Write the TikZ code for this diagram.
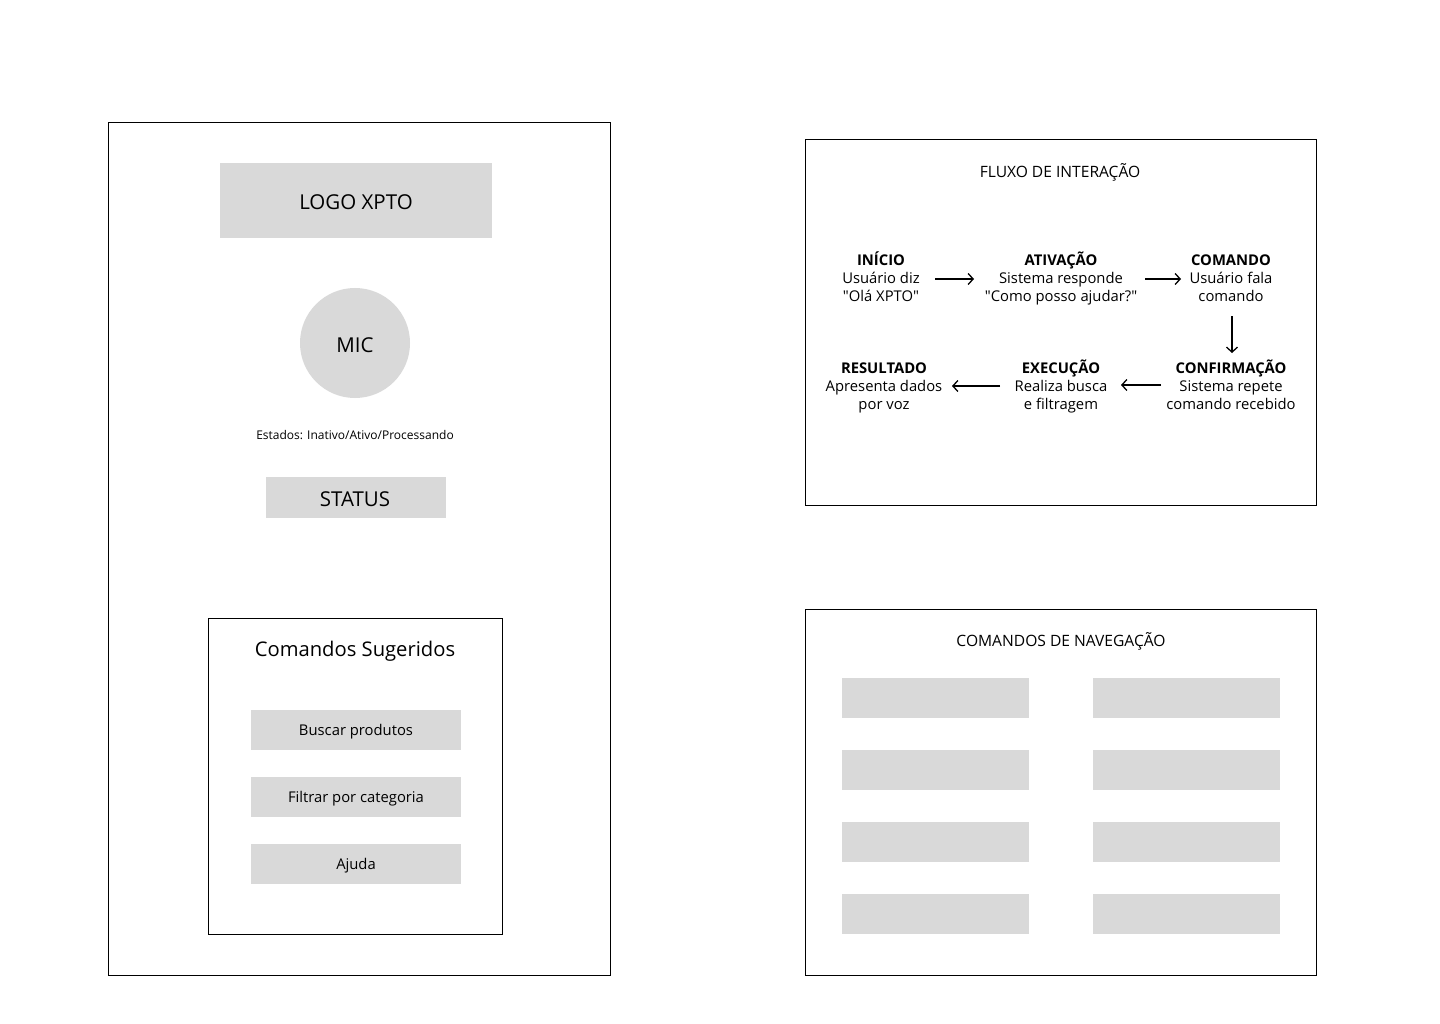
\documentclass[tikz,border=0pt]{standalone}
\usepackage{fontspec}
\setmainfont{Open Sans}[Ligatures=TeXOff]
\usetikzlibrary{arrows.meta}
\begin{document}
\begin{tikzpicture}[x=1pt,y=-1pt,
  frame/.style={draw=black,line width=1pt,fill=none},
  greybox/.style={fill=boxgrey,draw=none},
  body/.style={font=\fontsize{14.8}{18}\selectfont,align=center,inner sep=0pt,anchor=north},
  arr/.style={-{Straight Barb[length=5pt,width=11pt]},line width=1.3pt}]
\definecolor{boxgrey}{HTML}{D9D9D9}
\useasboundingbox (0,0) rectangle (1440,1024);
\fill[white] (0,0) rectangle (1440,1024);
% left phone frame
\draw[frame] (108,123) rectangle (610,975);
\fill[greybox] (220,163) rectangle (492,238);
\node[font=\fontsize{20.5}{22}\selectfont] (logo) at (356,202) {LOGO XPTO};
\fill[boxgrey] (355,343) circle (55);
\node[font=\fontsize{20.5}{22}\selectfont] (mic) at (355,345) {MIC};
\node[font=\fontsize{12}{13}\selectfont] (estados) at (355,435.5) {Estados: Inativo/Ativo/Processando};
\fill[greybox] (266,477) rectangle (446,518);
\node[font=\fontsize{20.5}{22}\selectfont] (status) at (355,499) {STATUS};
% suggested commands
\draw[frame] (208,618) rectangle (502,934);
\node[font=\fontsize{20.2}{22}\selectfont] (sug) at (355,651) {Comandos Sugeridos};
\fill[greybox] (251,710) rectangle (461,750);
\node[font=\fontsize{14.8}{17}\selectfont] (b1) at (356,732) {Buscar produtos};
\fill[greybox] (251,777) rectangle (461,817);
\node[font=\fontsize{14.8}{17}\selectfont] (b2) at (356,799) {Filtrar por categoria};
\fill[greybox] (251,844) rectangle (461,884);
\node[font=\fontsize{14.8}{17}\selectfont] (b3) at (356,866) {Ajuda};
% flow frame
\draw[frame] (805,140) rectangle (1316,505);
\node[font=\fontsize{15.6}{17}\selectfont] (ftitle) at (1060,172) {FLUXO DE INTERAÇÃO};
\node[body] (inicio) at (881,250) {\rule{0pt}{15pt}\textbf{INÍCIO}\\Usuário diz\\"Olá XPTO"};
\node[body] (ativ) at (1061,250) {\rule{0pt}{15pt}\textbf{ATIVAÇÃO}\\Sistema responde\\"Como posso ajudar?"};
\node[body] (coman) at (1231,250) {\rule{0pt}{15pt}\textbf{COMANDO}\\Usuário fala\\comando};
\node[body] (conf) at (1231,358) {\rule{0pt}{15pt}\textbf{CONFIRMAÇÃO}\\Sistema repete\\comando recebido};
\node[body] (exec) at (1061,358) {\rule{0pt}{15pt}\textbf{EXECUÇÃO}\\Realiza busca\\e filtragem};
\node[body] (res) at (884,358) {\rule{0pt}{15pt}\textbf{RESULTADO}\\Apresenta dados\\por voz};
\coordinate (a1s) at (935,279); \coordinate (a1e) at (974,279);
\coordinate (a2s) at (1145,279); \coordinate (a2e) at (1181,279);
\coordinate (a3s) at (1232,316); \coordinate (a3e) at (1232,353);
\coordinate (a4s) at (1161,385); \coordinate (a4e) at (1121,385);
\coordinate (a5s) at (1000,386); \coordinate (a5e) at (952,386);
\draw[arr] (a1s) -- (a1e);
\draw[arr] (a2s) -- (a2e);
\draw[arr] (a3s) -- (a3e);
\draw[arr] (a4s) -- (a4e);
\draw[arr] (a5s) -- (a5e);
% navigation frame
\draw[frame] (805,609) rectangle (1316,975);
\node[font=\fontsize{15.6}{17}\selectfont] (ntitle) at (1061,641) {COMANDOS DE NAVEGAÇÃO};
\foreach \yy in {678,750,822,894}{
  \fill[greybox] (842,\yy) rectangle (1029,\yy+40);
  \fill[greybox] (1093,\yy) rectangle (1280,\yy+40);
}
\end{tikzpicture}
\end{document}
